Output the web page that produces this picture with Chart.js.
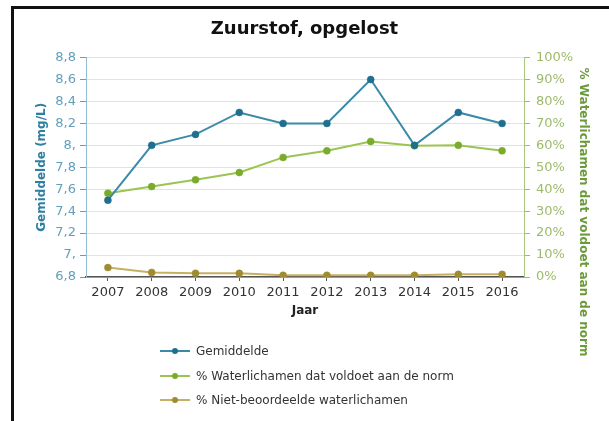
<!DOCTYPE html>
<html>
<head>
<meta charset="utf-8">
<script src="https://cdn.jsdelivr.net/npm/chart.js@4.4.1/dist/chart.umd.min.js"></script>
<style>
  html, body { margin: 0; padding: 0; background: #fff; }
  #wrap { position: relative; width: 609px; height: 421px; overflow: hidden; }
  #frame { position: absolute; left: 11px; top: 6px; width: 700px; height: 500px;
           border-left: 3px solid #111; border-top: 3px solid #111; }
  canvas { position: absolute; left: 0; top: 0; }
  #legend { position: absolute; left: 160px; top: 339px; font: 12px "DejaVu Sans", Verdana, sans-serif; color: #333; }
  .lg-item { display: flex; align-items: center; height: 24.5px; }
  .lg-mark { position: relative; width: 30px; height: 10px; margin-right: 6px; }
  .lg-line { position: absolute; left: 0; right: 0; top: 4px; height: 2px; }
  .lg-dot { position: absolute; left: 12px; top: 2px; width: 6px; height: 6px; border-radius: 50%; }
</style>
</head>
<body>
<div id="wrap">
  <div id="frame"></div>
  <canvas id="chart" width="609" height="421"></canvas>
  <div id="legend"></div>
</div>
<script>
// ── Data ────────────────────────────────────────────────────────────────────
const YEARS = ["2007","2008","2009","2010","2011","2012","2013","2014","2015","2016"];
const GEMIDDELDE = [7.5, 8.0, 8.1, 8.3, 8.2, 8.2, 8.6, 8.0, 8.3, 8.2];
const PCT_NORM   = [38.2, 41.2, 44.3, 47.6, 54.5, 57.5, 61.8, 59.8, 60.0, 57.5];
const PCT_NIET   = [4.3, 2.1, 1.7, 1.7, 0.8, 0.8, 0.8, 0.8, 1.2, 1.2];

const SERIES_LABELS = ["Gemiddelde", "% Waterlichamen dat voldoet aan de norm", "% Niet-beoordeelde waterlichamen"];
const LINE_COLORS  = ["#3a8aa8", "#9cc450", "#c8b060"];
const POINT_COLORS = ["#1f6f8f", "#7aab2a", "#a08c30"];

const FONT = '"DejaVu Sans", Verdana, sans-serif';
const BLUE_TICK  = "#629fba";
const GREEN_TICK = "#9dbb6a";
const RIGHT_TITLE = "% Waterlichamen dat voldoet aan de norm";

function fmtMg(v) {
  // source shows "8," and "7," for whole numbers
  return v.toFixed(1).replace(".", ",").replace(/0$/, "");
}

function ds(i, data, axis) {
  return {
    label: SERIES_LABELS[i],
    data,
    yAxisID: axis,
    borderColor: LINE_COLORS[i],
    backgroundColor: POINT_COLORS[i],
    pointBackgroundColor: POINT_COLORS[i],
    pointBorderColor: POINT_COLORS[i],
    borderWidth: 2,
    pointRadius: 3.5,
    pointBorderWidth: 0.5,
    tension: 0,
  };
}

// right axis title sits lower than the plot centre in the source, draw it by hand
const rightTitlePlugin = {
  id: "rightTitle",
  afterDraw(chart) {
    const { ctx } = chart;
    ctx.save();
    ctx.translate(583, 212);
    ctx.rotate(Math.PI / 2);
    ctx.font = "bold 12px " + FONT;
    ctx.fillStyle = "#6b9a3a";
    ctx.textAlign = "center";
    ctx.textBaseline = "middle";
    ctx.fillText(RIGHT_TITLE, 0, 0);
    ctx.restore();
  },
};

new Chart(document.getElementById("chart"), {
  type: "line",
  data: {
    labels: YEARS,
    datasets: [
      ds(0, GEMIDDELDE, "y"),
      ds(1, PCT_NORM, "y2"),
      ds(2, PCT_NIET, "y2"),
    ],
  },
  options: {
    responsive: false,
    animation: false,
    layout: { padding: { left: 0, right: 0, top: 0, bottom: 103 } },
    plugins: {
      legend: { display: false },
      tooltip: { enabled: false },
      title: {
        display: true,
        text: "Zuurstof, opgelost",
        color: "#111",
        font: { family: FONT, size: 18, weight: "bold" },
        padding: { top: 19, bottom: 17 },
      },
    },
    scales: {
      x: {
        offset: true,
        grid: { display: true, drawOnChartArea: false, drawTicks: true, tickLength: 4, tickColor: "#555" },
        border: { color: "#555", width: 1.5 },
        ticks: { color: "#333", font: { family: FONT, size: 13 }, padding: 4, maxRotation: 0 },
        title: { display: true, text: "Jaar", color: "#222", font: { family: FONT, size: 12, weight: "bold" }, padding: { top: 0, bottom: 0 } },
        afterFit(s) { s.height = 41; },
      },
      y: {
        position: "left",
        min: 6.8, max: 8.8,
        grid: { color: "#e2e2e2", tickColor: BLUE_TICK, tickLength: 6 },
        border: { color: "#8fbfd2" },
        ticks: { stepSize: 0.2, color: BLUE_TICK, font: { family: FONT, size: 13 }, padding: 4, callback: v => fmtMg(v) },
        title: { display: true, text: "Gemiddelde (mg/L)", color: "#2e7fa0", font: { family: FONT, size: 12, weight: "bold" }, padding: { top: 35 } },
        afterFit(s) { s.width = 86; },
      },
      y2: {
        position: "right",
        min: 0, max: 100,
        grid: { drawOnChartArea: false, tickColor: GREEN_TICK, tickLength: 6 },
        border: { color: "#a9c77c" },
        ticks: { stepSize: 10, color: GREEN_TICK, font: { family: FONT, size: 13 }, padding: 6, callback: v => v + "%" },
        afterFit(s) { s.width = 85; },
      },
    },
  },
  plugins: [rightTitlePlugin],
});

// legend: line with dot, one item per row
const legend = document.getElementById("legend");
legend.innerHTML = SERIES_LABELS.map((lbl, i) => `
  <div class="lg-item">
    <div class="lg-mark">
      <div class="lg-line" style="background:${LINE_COLORS[i]}"></div>
      <div class="lg-dot" style="background:${POINT_COLORS[i]}"></div>
    </div>
    <span>${lbl}</span>
  </div>`).join("");
</script>
</body>
</html>
